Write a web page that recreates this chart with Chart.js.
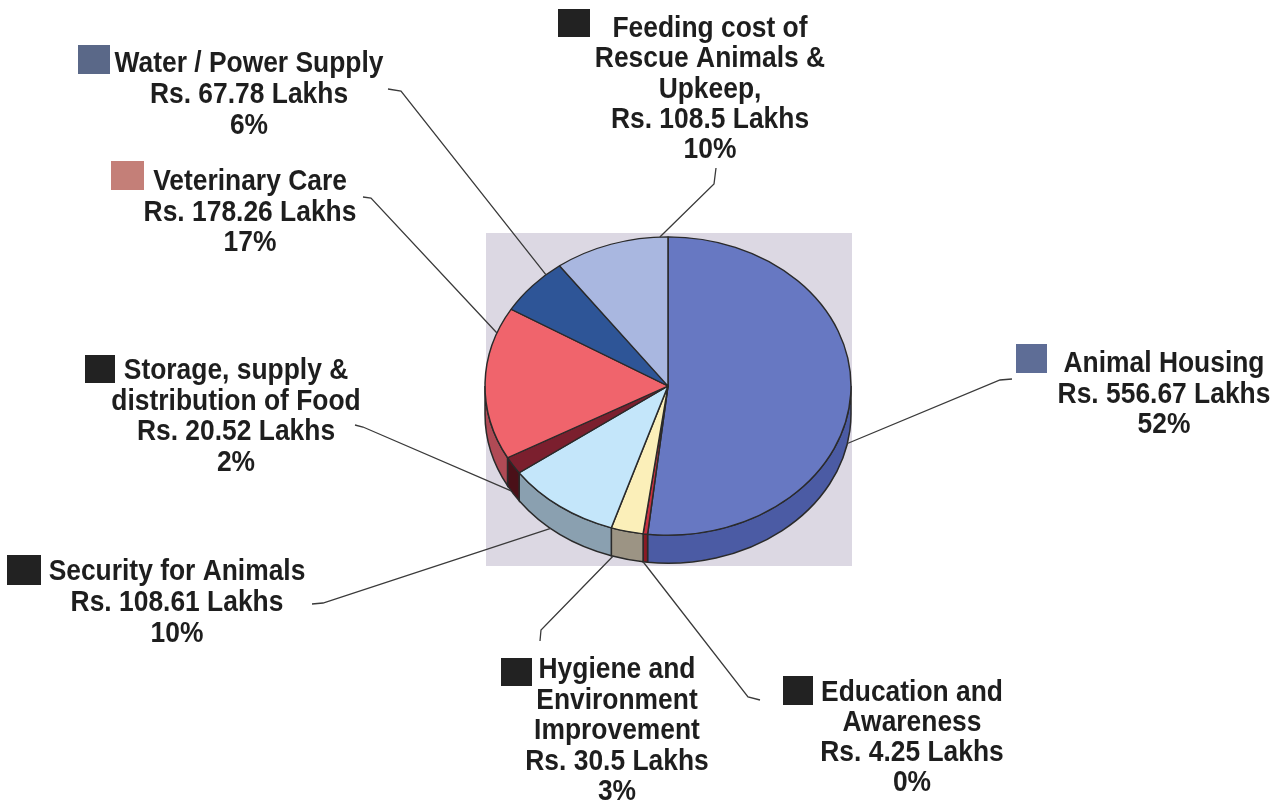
<!DOCTYPE html>
<html>
<head>
<meta charset="utf-8">
<script src="https://cdn.jsdelivr.net/npm/chart.js@4/dist/chart.umd.min.js"></script>
<style>
html,body{margin:0;padding:0;background:#fff;}
#wrap{width:1280px;height:803px;position:relative;}
</style>
</head>
<body>
<div id="wrap"><canvas id="c" width="1280" height="803"></canvas></div>
<script>
// ---- data ----
const CATEGORIES = ['Animal Housing','Education and Awareness','Hygiene and Environment Improvement','Security for Animals','Storage, supply & distribution of Food','Veterinary Care','Water / Power Supply','Feeding cost of Rescue Animals & Upkeep'];
const AMOUNTS = [556.67, 4.25, 30.5, 108.61, 20.52, 178.26, 67.78, 108.5];
const PERCENT_LABELS = ['52%','0%','3%','10%','2%','17%','6%','10%'];
const NAME_LINES = [
  ['Animal Housing'],
  ['Education and','Awareness'],
  ['Hygiene and','Environment','Improvement'],
  ['Security for Animals'],
  ['Storage, supply &','distribution of Food'],
  ['Veterinary Care'],
  ['Water / Power Supply'],
  ['Feeding cost of','Rescue Animals &','Upkeep,']
];
// ---- styles ----
const TOP_COLORS  = ['#6778c2','#c83040','#fbefb9','#c4e6fa','#7b1f2e','#f0646c','#2e5597','#a9b7e0'];
const SIDE_COLORS = ['#4b5ba4','#8a1a25','#9c9484','#8aa0b0','#4a1018','#b04a55','#1f3d70','#7f8db8'];
const KEY_COLORS  = ['#5e6d96','#222','#222','#222','#222','#c47f78','#5a6888','#222'];
// ---- label layout ----
const LABEL_LAYOUT = [
  {cx:1164, y0:372, lh:30.5, sq:[1016,344,31,29], leader:[[1012,379],[1000,380]], frac:0.544},
  {cx:912,  y0:701, lh:30,   sq:[783,676,30,29],  leader:[[760,700],[748,697]], frac:1.0},
  {cx:617,  y0:678, lh:30.5, sq:[501,658,31,28],  leader:[[540,641],[541,630]], frac:0.95},
  {cx:177,  y0:580, lh:31,   sq:[7,555,34,30],    leader:[[312,604],[323,603]], frac:0.6},
  {cx:236,  y0:379, lh:30.5, sq:[85,355,30,28],   leader:[[355,425],[363,427]], frac:0.67},
  {cx:250,  y0:190, lh:30.5, sq:[111,161,33,29],  leader:[[363,197],[371,198]], frac:0.83},
  {cx:249,  y0:72,  lh:31,   sq:[78,45,32,29],    leader:[[388,89],[401,91]],   frac:0.76},
  {cx:710,  y0:37,  lh:30.3, sq:[558,9,32,28],    leader:[[716,168],[714,184]], frac:0.93}
];
const K = 0.815;   // vertical squash of pie
const DEPTH = 28;  // rim depth

const pie3d = {
  id:'pie3d',
  beforeDraw(chart){
    const ctx = chart.ctx;
    ctx.save();
    ctx.fillStyle = '#dcd8e3';
    ctx.fillRect(486, 233, 366, 333);
    ctx.restore();
  },
  beforeDatasetsDraw(chart){
    const ctx = chart.ctx;
    const arcs = chart.getDatasetMeta(0).data;
    ctx.save();
    arcs.forEach((a,i)=>{
      const s = Math.max(a.startAngle, 0), e = Math.min(a.endAngle, Math.PI);
      if (e <= s) return;
      const r = a.outerRadius;
      ctx.beginPath();
      ctx.ellipse(a.x, a.y, r, r*K, 0, s, e, false);
      ctx.ellipse(a.x, a.y + DEPTH, r, r*K, 0, e, s, true);
      ctx.closePath();
      ctx.fillStyle = SIDE_COLORS[i];
      ctx.fill();
      ctx.lineWidth = 1.5;
      ctx.strokeStyle = '#2a2a2a';
      ctx.stroke();
    });
    ctx.restore();
    const a0 = arcs[0];
    ctx.save();
    ctx.translate(a0.x, a0.y);
    ctx.scale(1, K);
    ctx.translate(-a0.x, -a0.y);
  },
  afterDatasetsDraw(chart){
    chart.ctx.restore();
  },
  afterDraw(chart){
    const ctx = chart.ctx;
    const arcs = chart.getDatasetMeta(0).data;
    ctx.save();
    // leader lines
    arcs.forEach((a,i)=>{
      const L = LABEL_LAYOUT[i];
      const ang = a.startAngle + (a.endAngle - a.startAngle) * L.frac;
      const r = a.outerRadius;
      const sn = Math.sin(ang);
      const px = a.x + r*Math.cos(ang);
      const py = a.y + r*K*sn + (sn > 0 ? DEPTH : 0);
      ctx.beginPath();
      ctx.moveTo(L.leader[0][0], L.leader[0][1]);
      ctx.lineTo(L.leader[1][0], L.leader[1][1]);
      ctx.lineTo(px, py);
      ctx.lineWidth = 1.3;
      ctx.strokeStyle = '#3a3a3a';
      ctx.stroke();
    });
    // labels
    ctx.font = 'bold 30px "Liberation Sans", Arial, sans-serif';
    ctx.textAlign = 'center';
    ctx.textBaseline = 'alphabetic';
    ctx.fillStyle = '#1e1e1e';
    CATEGORIES.forEach((c,i)=>{
      const L = LABEL_LAYOUT[i];
      const lines = NAME_LINES[i].concat(['Rs. ' + AMOUNTS[i] + ' Lakhs', PERCENT_LABELS[i]]);
      lines.forEach((t,j)=>{
        ctx.save();
        ctx.translate(L.cx, L.y0 + j*L.lh);
        ctx.scale(0.88, 1);
        ctx.fillText(t, 0, 0);
        ctx.restore();
      });
      ctx.fillStyle = KEY_COLORS[i];
      ctx.fillRect(L.sq[0], L.sq[1], L.sq[2], L.sq[3]);
      ctx.fillStyle = '#1e1e1e';
    });
    ctx.restore();
  }
};

new Chart(document.getElementById('c'), {
  type:'pie',
  data:{
    labels: CATEGORIES,
    datasets:[{
      data: AMOUNTS,
      backgroundColor: TOP_COLORS,
      borderColor:'#2a2a2a',
      borderWidth:1.5,
      radius:183
    }]
  },
  options:{
    responsive:false,
    animation:false,
    layout:{padding:{left:484, right:428, top:202, bottom:233}},
    plugins:{legend:{display:false}, tooltip:{enabled:false}}
  },
  plugins:[pie3d]
});
</script>
</body>
</html>
